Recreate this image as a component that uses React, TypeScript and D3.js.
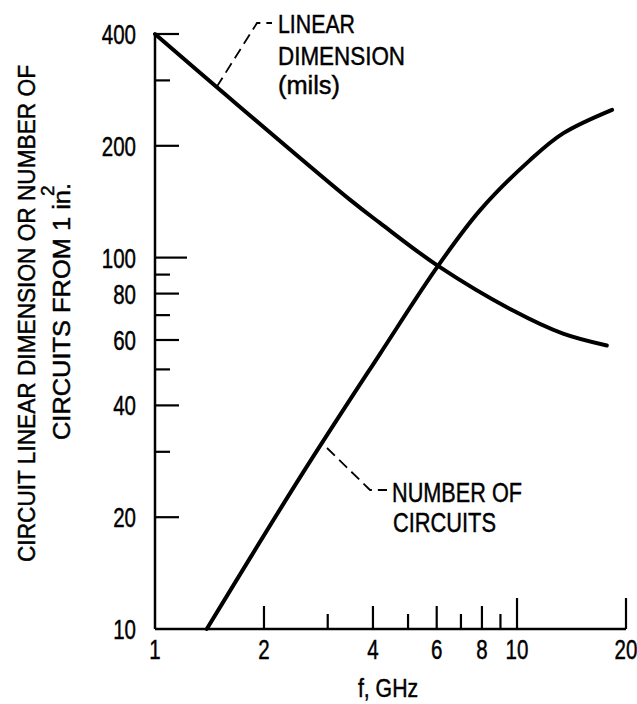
import React from "react";
import * as d3 from "d3";

// Data (log-log chart)
const linFreq = [1, 1.48, 3.46, 4.18, 6.05, 9.75, 13.4, 17.7];
const linDim = [400, 288, 143, 124, 95, 72, 62.4, 58];

const cirFreq = [1.39, 2.515, 4.18, 6.05, 7.9, 10.86, 13.4, 18.3];
const cirNum = [10, 25.6, 55, 95, 134, 183, 216, 250];

const xTickVals = [2, 3, 4, 5, 6, 7, 8, 9, 10, 20];
const xTickLabels = [1, 2, 4, 6, 8, 10, 20];
const yTickVals = [400, 300, 200, 100, 90, 80, 70, 60, 50, 40, 30, 20];
const yTickLabels = [400, 200, 100, 80, 60, 40, 20, 10];

const W = 637;
const H = 704;
const FONT = "'Liberation Sans', Arial, sans-serif";

export default function App() {
  const x = d3.scaleLog().domain([1, 20]).range([155, 626]);
  const y = d3.scaleLog().domain([10, 400]).range([629, 34]);

  const line = d3
    .line<[number, number]>()
    .x((d) => x(d[0]))
    .y((d) => y(d[1]))
    .curve(d3.curveCatmullRom.alpha(0.5));

  const linPts = linFreq.map((f, i) => [f, linDim[i]] as [number, number]);
  const cirPts = cirFreq.map((f, i) => [f, cirNum[i]] as [number, number]);

  const xTickLen = (v: number) => (v >= 10 ? 31 : v % 2 === 0 ? 23 : 15);
  const yTickLen = (v: number) => {
    if (v === 100) return 32;
    const m = v >= 100 ? v / 100 : v / 10;
    return m === 3 || m === 5 || m === 7 || m === 9 ? 15 : 24;
  };

  const x0 = x(1);
  const yb = y(10);
  const txt = { fontFamily: FONT, fill: "#000", stroke: "#000", strokeWidth: 0.45 };

  return (
    <div style={{ position: "absolute", left: 0, top: 0 }}>
      <svg width={W} height={H} style={{ display: "block", background: "#fff" }}>
        <rect x={0} y={0} width={W} height={H} fill="#fff" />
        {/* axes */}
        <line x1={x0} y1={y(400)} x2={x0} y2={yb} stroke="#000" strokeWidth={2.5} />
        <line x1={x0} y1={yb} x2={x(20)} y2={yb} stroke="#000" strokeWidth={2.5} />
        {/* x ticks */}
        {xTickVals.map((v) => (
          <line key={"xt" + v} x1={x(v)} x2={x(v)} y1={yb} y2={yb - xTickLen(v)} stroke="#000" strokeWidth={2.2} />
        ))}
        {xTickLabels.map((v) => (
          <text
            key={"xl" + v}
            transform={`translate(${x(v)},659) scale(0.76,1)`}
            textAnchor="middle"
            fontSize={27}
            {...txt}
          >
            {v}
          </text>
        ))}
        {/* y ticks */}
        {yTickVals.map((v) => (
          <line key={"yt" + v} x1={x0} x2={x0 + yTickLen(v)} y1={y(v)} y2={y(v)} stroke="#000" strokeWidth={2.2} />
        ))}
        {yTickLabels.map((v) => (
          <text
            key={"yl" + v}
            transform={`translate(136,${y(v) + 10}) scale(0.76,1)`}
            textAnchor="end"
            fontSize={27}
            {...txt}
          >
            {v}
          </text>
        ))}
        {/* curves */}
        <path d={line(linPts) || ""} fill="none" stroke="#000" strokeWidth={4} strokeLinecap="round" />
        <path d={line(cirPts) || ""} fill="none" stroke="#000" strokeWidth={4} strokeLinecap="round" />
        {/* leader lines */}
        <polyline
          points={`${x(1.48)},${y(288)} 257,23 272,23`}
          fill="none"
          stroke="#000"
          strokeWidth={1.8}
          strokeDasharray="11,6"
        />
        <polyline
          points={`327,448 370,490 387,490`}
          fill="none"
          stroke="#000"
          strokeWidth={1.8}
          strokeDasharray="11,6"
        />
        {/* annotations */}
        <g {...txt} fontSize={25.5}>
          <text x={278} y={33} textLength={77} lengthAdjust="spacingAndGlyphs">LINEAR</text>
          <text x={278} y={65} textLength={127} lengthAdjust="spacingAndGlyphs">DIMENSION</text>
          <text x={278} y={94} textLength={62} lengthAdjust="spacingAndGlyphs">(mils)</text>
        </g>
        <g {...txt} fontSize={28}>
          <text x={392} y={502} textLength={130} lengthAdjust="spacingAndGlyphs">NUMBER OF</text>
          <text x={393} y={532} textLength={103} lengthAdjust="spacingAndGlyphs">CIRCUITS</text>
        </g>
        {/* axis titles */}
        <text
          transform="translate(35,562) rotate(-90)"
          {...txt}
          fontSize={23}
          textLength={497}
          lengthAdjust="spacingAndGlyphs"
        >
          CIRCUIT LINEAR DIMENSION OR NUMBER OF
        </text>
        <text
          transform="translate(70,440) rotate(-90)"
          {...txt}
          fontSize={23}
          textLength={257}
          lengthAdjust="spacingAndGlyphs"
        >
          CIRCUITS FROM 1 in.
        </text>
        <text transform="translate(54,196) rotate(-90)" {...txt} fontSize={19}>
          2
        </text>
        <text
          transform="translate(388,697) scale(0.85,1)"
          textAnchor="middle"
          fontSize={25}
          {...txt}
        >
          f, GHz
        </text>
      </svg>
    </div>
  );
}
